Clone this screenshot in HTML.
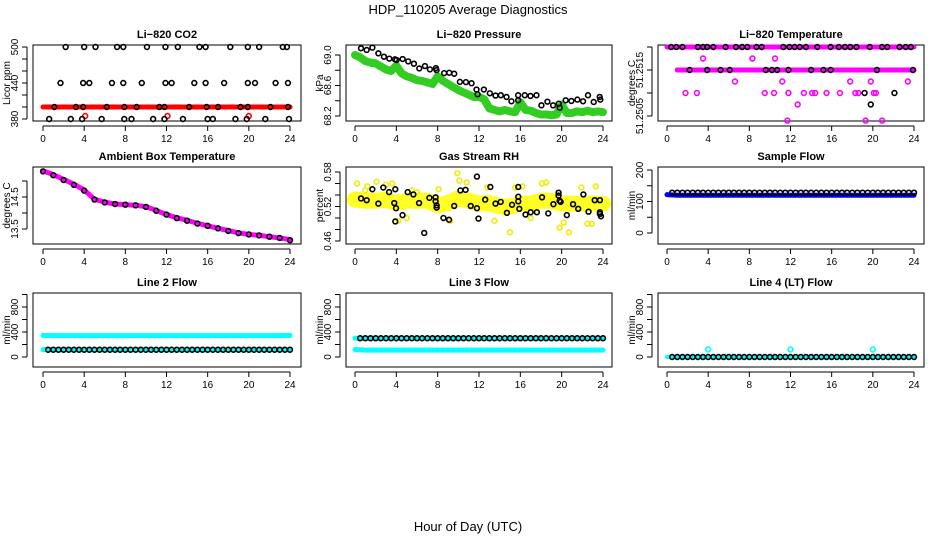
<!DOCTYPE html>
<html><head><meta charset="utf-8"><style>
body{margin:0;background:#fff;}
svg{display:block;font-family:"Liberation Sans",sans-serif;}
</style></head><body>
<svg id="c" width="936" height="540" viewBox="0 0 936 540">
<text x="468" y="14" text-anchor="middle" font-size="13">HDP_110205  Average Diagnostics</text>
<text x="468" y="531" text-anchor="middle" font-size="13">Hour of Day (UTC)</text>
</svg>
<script>
const hrs25=[0,1,2,3,4,5,6,7,8,9,10,11,12,13,14,15,16,17,18,19,20,21,22,23,24];
const hrsHalf=[0,0.5,1,1.5,2,2.5,3,3.5,4,4.5,5,5.5,6,6.5,7,7.5,8,8.5,9,9.5,10,10.5,11,11.5,12,12.5,13,13.5,14,14.5,15,15.5,16,16.5,17,17.5,18,18.5,19,19.5,20,20.5,21,21.5,22,22.5,23,23.5,24];
const xTicks=[0,4,8,12,16,20,24];
// CO2
const co2BlackHours=[2.2,4.0,5.1,7.2,7.8,10.1,11.9,13.1,15.2,15.8,18.2,19.9,21.0,23.3,23.7,1.7,3.9,4.5,6.7,7.8,9.6,11.9,12.5,14.7,15.8,17.6,19.9,20.6,22.6,23.8,1.1,3.2,3.9,6.2,7.9,9.1,11.3,11.8,14.2,15.9,17.0,19.2,19.9,22.1,23.8,0.6,2.7,3.8,5.7,7.9,8.6,10.7,11.8,13.6,16.0,16.5,18.7,19.8,21.6,23.9];
const co2BlackVals=[500,500,500,500,500,500,500,500,500,500,500,500,500,500,500,440,440,440,440,440,440,440,440,440,440,440,440,440,440,440,400,400,400,400,400,400,400,400,400,400,400,400,400,400,400,380,380,380,380,380,380,380,380,380,380,380,380,380,380,380];
const co2Red=[400,400,400,400,400,400,400,400,400,400,400,400,400,400,400,400,400,400,400,400,400,400,400,400,400];
const co2RedOutHours=[4.1,12.1,20.0];
const co2RedOutVals=[385,385,385];
// Pressure
const presBlackHours=[0.58,1.13,1.68,2.26,2.8,3.32,3.87,4.03,4.61,5.15,5.7,6.22,6.77,7.25,7.83,7.89,8.63,9.12,9.6,10.15,10.73,11.28,11.76,11.86,12.47,13.05,13.6,14.11,14.66,15.14,15.79,15.79,16.43,16.98,17.56,18.04,18.62,19.17,19.72,19.81,20.39,20.94,21.52,22.07,22.55,23.1,23.68,23.74];
const presBlackVals=[69.088,69.066,69.097,69.022,68.978,68.952,68.943,68.934,68.947,68.916,68.886,68.824,68.855,68.811,68.828,68.802,68.762,68.767,68.754,68.648,68.644,68.63,68.547,68.485,68.547,68.498,68.468,68.472,68.45,68.393,68.472,68.406,68.472,68.463,68.472,68.34,68.388,68.34,68.362,68.309,68.406,68.397,68.415,68.393,68.472,68.384,68.45,68.415];
const presGreen=[69.0,68.97,68.92,68.9,68.89,68.85,68.81,68.79,68.86,68.76,68.72,68.7,68.67,68.66,68.64,68.62,68.72,68.66,68.62,68.58,68.54,68.51,68.48,68.45,68.45,68.42,68.3,68.28,68.26,68.28,68.26,68.25,68.38,68.28,68.27,68.24,68.22,68.22,68.21,68.22,68.35,68.24,68.24,68.26,68.25,68.27,68.25,68.26,68.25];
// Li-820 temperature
const tTopHours=[0.4,0.9,1.5,3.0,3.5,3.9,4.5,5.7,6.7,7.3,7.8,8.7,9.2,11.3,11.9,12.4,12.9,13.5,14.6,15.9,16.7,17.3,17.8,18.4,19.7,20.9,21.4,22.6,23.2,23.7,2.2,3.9,5.2,6.1,9.6,10.2,10.7,11.8,14.0,15.2,15.9,20.4,23.9,19.2,22.1,19.8];
const tTopVals=[51.252,51.252,51.252,51.252,51.252,51.252,51.252,51.252,51.252,51.252,51.252,51.252,51.252,51.252,51.252,51.252,51.252,51.252,51.252,51.252,51.252,51.252,51.252,51.252,51.252,51.252,51.252,51.252,51.252,51.252,51.2515,51.2515,51.2515,51.2515,51.2515,51.2515,51.2515,51.2515,51.2515,51.2515,51.2515,51.2515,51.2515,51.251,51.251,51.25075];
const tMagHours=[3.5,8.3,10.5,6.6,11.2,17.8,19.8,23.4,1.8,2.9,9.5,10.4,11.8,13.3,14.1,14.4,15.5,16.8,18.3,18.6,20.1,20.3,12.7,11.7,19.3,20.9];
const tMagVals=[51.25175,51.25175,51.25175,51.25125,51.25125,51.25125,51.25125,51.25125,51.251,51.251,51.251,51.251,51.251,51.251,51.251,51.251,51.251,51.251,51.251,51.251,51.251,51.251,51.25075,51.2504,51.2504,51.2504];
const tMagBandTop=[51.252,51.252];
const tMagBandMid=[51.2515,51.2515];
// Ambient
const ambMag=[15.32,15.2,15.05,14.9,14.72,14.43,14.34,14.28,14.26,14.24,14.2,14.08,13.95,13.85,13.77,13.68,13.6,13.52,13.45,13.38,13.33,13.3,13.26,13.22,13.17];
const ambBlack=[15.3,15.18,15.03,14.88,14.7,14.42,14.33,14.28,14.26,14.24,14.19,14.07,13.95,13.84,13.76,13.67,13.6,13.52,13.44,13.37,13.33,13.3,13.26,13.22,13.15];
// RH
const rhBlackHours=[0.58,1.13,1.68,2.26,2.74,3.3,3.9,3.8,3.97,3.9,4.6,5.1,5.65,6.2,6.7,7.2,7.8,7.8,7.9,7.9,8.56,9.1,9.6,10.2,10.7,11.2,11.8,11.8,11.95,12.6,13.1,13.6,14.1,14.7,15.2,15.8,15.8,15.8,15.9,16.5,17.0,17.6,18.1,18.7,19.2,19.7,19.7,19.8,19.9,20.5,21.1,21.6,22.1,22.6,23.2,23.7,23.7,23.8,23.7];
const rhBlackVals=[0.534,0.531,0.55,0.525,0.553,0.545,0.55,0.526,0.517,0.494,0.505,0.545,0.541,0.526,0.474,0.535,0.536,0.529,0.522,0.518,0.5,0.497,0.521,0.548,0.549,0.521,0.572,0.517,0.499,0.532,0.554,0.525,0.528,0.509,0.523,0.554,0.537,0.529,0.516,0.506,0.51,0.51,0.536,0.508,0.524,0.544,0.539,0.53,0.528,0.505,0.524,0.516,0.541,0.511,0.531,0.531,0.51,0.503,0.507];
const rhYellowMean=[0.532,0.53,0.53,0.532,0.526,0.53,0.53,0.53,0.522,0.526,0.534,0.53,0.525,0.526,0.52,0.52,0.525,0.525,0.53,0.53,0.525,0.525,0.525,0.525,0.525];
const rhYellowOutHours=[0.2,1.2,2.1,3.0,3.6,5.5,8.1,9.9,10.1,10.8,12.8,15.0,15.5,16.2,18.1,18.5,19.8,20.7,21.9,22.5,22.9,23.3,9.2,13.5,5.0,1.0,4.2,17.0,20.2,6.0];
const rhYellowOutVals=[0.56,0.555,0.563,0.558,0.56,0.548,0.55,0.578,0.565,0.562,0.553,0.475,0.553,0.555,0.56,0.562,0.483,0.475,0.553,0.49,0.49,0.555,0.495,0.495,0.5,0.548,0.495,0.5,0.492,0.545];
// Flows
const flowHours=[0.5,1,1.5,2,2.5,3,3.5,4,4.5,5,5.5,6,6.5,7,7.5,8,8.5,9,9.5,10,10.5,11,11.5,12,12.5,13,13.5,14,14.5,15,15.5,16,16.5,17,17.5,18,18.5,19,19.5,20,20.5,21,21.5,22,22.5,23,23.5,24];
const sampleBlack=[128,128,128,128,128,128,128,128,128,128,128,128,128,128,128,128,128,128,128,128,128,128,128,128,128,128,128,128,128,128,128,128,128,128,128,128,128,128,128,128,128,128,128,128,128,128,128,128];
const sampleBlue=[122,120,120,120,120,120,120,120,120,120,120,120,120,120,120,120,120,120,120,120,120,120,120,120,120];
const l2Upper=[345,342,342,342,342,342,342,342,342,342,342,342,342,342,342,342,342,342,342,342,342,342,342,342,345];
const l2Lower=[118,116,116,116,116,116,116,116,116,116,116,116,116,116,116,116,116,116,116,116,116,116,116,116,116];
const l2Black=[116,116,116,116,116,116,116,116,116,116,116,116,116,116,116,116,116,116,116,116,116,116,116,116,116,116,116,116,116,116,116,116,116,116,116,116,116,116,116,116,116,116,116,116,116,116,116,116];
const l3Upper=[300,300,300,300,300,300,300,300,300,300,300,300,300,300,300,300,300,300,300,300,300,300,300,300,300];
const l3Lower=[120,110,110,110,110,110,110,110,110,110,110,110,110,110,110,110,110,110,110,110,110,110,110,110,110];
const l3Black=[300,300,300,300,300,300,300,300,300,300,300,300,300,300,300,300,300,300,300,300,300,300,300,300,300,300,300,300,300,300,300,300,300,300,300,300,300,300,300,300,300,300,300,300,300,300,300,300];
const l4Cyan=[0,0,0,0,0,0,0,0,0,0,0,0,0,0,0,0,0,0,0,0,0,0,0,0,0];
const l4Black=[0,0,0,0,0,0,0,0,0,0,0,0,0,0,0,0,0,0,0,0,0,0,0,0,0,0,0,0,0,0,0,0,0,0,0,0,0,0,0,0,0,0,0,0,0,0,0,0];
const l4OutHours=[4,12,20];
const l4OutVals=[120,120,120];

const svg=document.getElementById('c');
const NS='http://www.w3.org/2000/svg';
function mk(tag,attrs,parent){const e=document.createElementNS(NS,tag);for(const k in attrs)e.setAttribute(k,attrs[k]);(parent||svg).appendChild(e);return e;}
const cols=[{l:33,r:301,x0:43,x24:290},{l:346,r:612,x0:355,x24:603},{l:658,r:924,x0:667,x24:914}];
const rows=[{t:45,b:121},{t:167,b:244},{t:293,b:367}];
function makePanel(name,title,ci,ri,v0,p0,v1,p1,ticks,labels,ytitle,xlabels){
  const c=cols[ci],r=rows[ri];
  const g=mk('g',{});
  
  
  const X=h=>c.x0+h*(c.x24-c.x0)/24;
  const Y=v=>p0+(v-v0)*(p1-p0)/(v1-v0);
  const bx=mk('rect',{x:c.l,y:r.t,width:c.r-c.l,height:r.b-r.t,fill:'none',stroke:'#000','stroke-width':1},g);
  
  
  const tt=mk('text',{x:(c.l+c.r)/2,y:r.t-7,'text-anchor':'middle','font-size':11,'font-weight':'bold'},g);
  tt.textContent=title;
  
  
  mk('line',{x1:X(0),x2:X(24),y1:r.b+5,y2:r.b+5,stroke:'#000'},g);
  xTicks.forEach(h=>{
    mk('line',{x1:X(h),x2:X(h),y1:r.b+5,y2:r.b+10,stroke:'#000'},g);
    if(xlabels){const t=mk('text',{x:X(h),y:r.b+21,'text-anchor':'middle','font-size':10},g);t.textContent=h;
      
      }
  });
  const ax=c.l-6;
  mk('line',{x1:ax,x2:ax,y1:Y(ticks[0]),y2:Y(ticks[ticks.length-1]),stroke:'#000'},g);
  ticks.forEach(v=>mk('line',{x1:ax-5,x2:ax,y1:Y(v),y2:Y(v),stroke:'#000'},g));
  labels.forEach(v=>{const t=mk('text',{x:0,y:0,'text-anchor':'middle','font-size':10,transform:`translate(${ax-9},${Y(v)}) rotate(-90)`},g);t.textContent=String(v);
    
    });
  const yt=mk('text',{x:0,y:0,'text-anchor':'middle','font-size':10,transform:`translate(${c.l-23},${(r.t+r.b)/2}) rotate(-90)`},g);
  yt.textContent=ytitle;
  
  
  return {g,X,Y};
}
function pts(P,hours,vals,color,nm){
  hours.forEach((h,i)=>{const e=mk('circle',{cx:P.X(h),cy:P.Y(vals[i]),r:2.4,fill:'none',stroke:color,'stroke-width':1.6},P.g);
    
    });
}
function band(P,hours,vals,color,w,nm,op){
  const e=mk('polyline',{points:hours.map((h,i)=>P.X(h)+','+P.Y(vals[i])).join(' '),fill:'none',stroke:color,'stroke-width':w,'stroke-linejoin':'round','stroke-linecap':'round',opacity:op||1},P.g);
  
  
}
let P=makePanel('panel-co2','Li\u2212820 CO2',0,0,380,119,500,47,[380,400,420,440,460,480,500],[380,440,500],'Licor ppm',true);
band(P,hrs25,co2Red,'#ff0000',5,'co2-red-series');
pts(P,co2RedOutHours,co2RedOutVals,'#ff0000','co2-red-point');
pts(P,co2BlackHours,co2BlackVals,'#000','co2-black-point');
P=makePanel('panel-pressure','Li\u2212820 Pressure',1,0,68.2,116,69.0,55,[68.2,68.4,68.6,68.8,69.0],['68.2','68.6','69.0'],'kPa',true);
band(P,hrsHalf,presGreen,'#33cc22',8,'pressure-green-series');
pts(P,presBlackHours,presBlackVals,'#000','pressure-black-point');
P=makePanel('panel-li820-temp','Li\u2212820 Temperature',2,0,51.2505,116,51.252,47,[51.2505,51.251,51.2515,51.252],['51.2505','51.2515'],'degrees C',true);
band(P,[0,24],tMagBandTop,'#ff00ff',5,'temp-magenta-top');
band(P,[1,24],tMagBandMid,'#ff00ff',5,'temp-magenta-mid');
pts(P,tMagHours,tMagVals,'#ff00ff','temp-magenta-point');
pts(P,tTopHours,tTopVals,'#000','temp-black-point');
P=makePanel('panel-ambient','Ambient Box Temperature',0,1,13.5,229,14.5,197,[13.5,14.0,14.5,15.0],['13.5','14.5'],'degrees C',true);
band(P,hrs25,ambMag,'#ff00ff',5,'ambient-magenta-series');
pts(P,hrs25,ambBlack,'#000','ambient-black-point');
P=makePanel('panel-rh','Gas Stream RH',1,1,0.46,241,0.58,172,[0.46,0.48,0.50,0.52,0.54,0.56,0.58],['0.46','0.52','0.58'],'percent',true);
band(P,hrs25,rhYellowMean,'#ffff00',16,'rh-yellow-series',0.85);
pts(P,rhYellowOutHours,rhYellowOutVals,'#eeee00','rh-yellow-point');
pts(P,rhBlackHours,rhBlackVals,'#000','rh-black-point');
P=makePanel('panel-sample-flow','Sample Flow',2,1,0,233,200,170,[0,50,100,150,200],[0,100,200],'ml/min',true);
band(P,hrs25,sampleBlue,'#0000ff',5,'sample-blue-series');
pts(P,flowHours,sampleBlack,'#000','sample-black-point');
P=makePanel('panel-line2','Line 2 Flow',0,2,0,357,800,307,[0,200,400,600,800,1000],[0,400,800],'ml/min',true);
band(P,hrs25,l2Upper,'#00ffff',5,'line2-cyan-upper');
band(P,hrs25,l2Lower,'#00ffff',5,'line2-cyan-lower');
pts(P,flowHours,l2Black,'#000','line2-black-point');
P=makePanel('panel-line3','Line 3 Flow',1,2,0,357,800,307,[0,200,400,600,800,1000],[0,400,800],'ml/min',true);
band(P,hrs25,l3Upper,'#00ffff',5,'line3-cyan-upper');
band(P,hrs25,l3Lower,'#00ffff',5,'line3-cyan-lower');
pts(P,flowHours,l3Black,'#000','line3-black-point');
P=makePanel('panel-line4','Line 4 (LT) Flow',2,2,0,357,800,307,[0,200,400,600,800,1000],[0,400,800],'ml/min',true);
band(P,hrs25,l4Cyan,'#00ffff',4,'line4-cyan-series');
pts(P,l4OutHours,l4OutVals,'#00ffff','line4-cyan-point');
pts(P,flowHours,l4Black,'#000','line4-black-point');
</script>
</body></html>
